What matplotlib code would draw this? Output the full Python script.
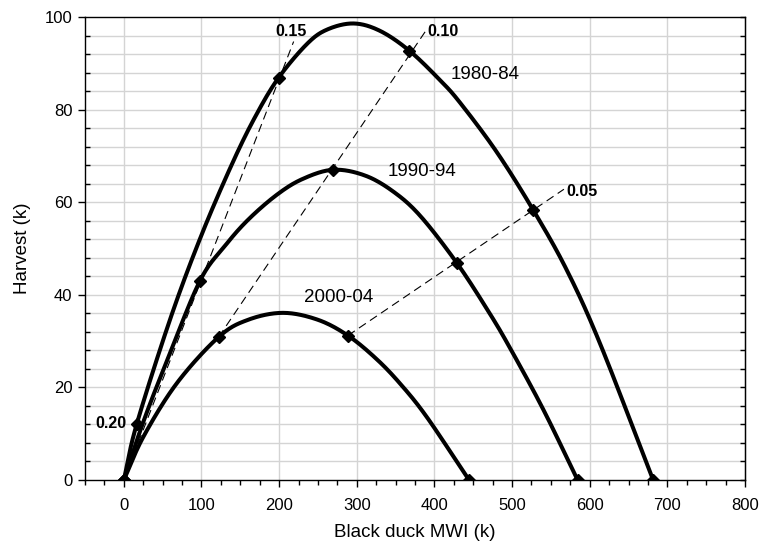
import numpy as np
import matplotlib
matplotlib.use('Agg')
import matplotlib.pyplot as plt
from matplotlib.ticker import MultipleLocator, NullFormatter

plt.rcParams['font.family'] = ['Liberation Sans', 'DejaVu Sans']

# ---- data ----
series_names = ['1980-84', '1990-94', '2000-04']

x_8084 = [0, 16.5, 60, 100, 140, 170, 199.4, 236, 262, 296, 330, 367.9, 407, 433, 480, 527.3, 570, 613, 681.7]
y_8084 = [0, 12.0, 34.9, 52.9, 68.5, 78.7, 86.9, 94.2, 97.3, 98.6, 97.0, 92.7, 86.4, 81.5, 70.9, 58.3, 45.5, 29.6, 0]
mx_8084 = [0, 16.5, 199.4, 367.9, 527.3, 681.7]
my_8084 = [0, 12.0, 86.9, 92.7, 58.3, 0]

x_9094 = [0, 25, 55, 98, 130, 160, 197, 230, 269.3, 310, 347, 382, 428.8, 470, 497.4, 540, 584.4]
y_9094 = [0, 12.5, 25.5, 43, 50.5, 56.2, 61.6, 65.0, 67, 65.8, 62.3, 57.0, 46.9, 36.3, 28.5, 15.3, 0]
mx_9094 = [0, 98, 269.3, 428.8, 584.4]
my_9094 = [0, 43, 67, 46.9, 0]

x_0004 = [0, 25.7, 68.7, 122.2, 160, 205, 250, 288.6, 325, 355.9, 390.2, 444.6]
y_0004 = [0, 9.5, 21.0, 30.9, 34.6, 36.1, 34.6, 31.2, 26.2, 20.8, 13.6, 0]
mx_0004 = [0, 122.2, 288.6, 444.6]
my_0004 = [0, 30.9, 31.2, 0]

rate_labels = ['0.20', '0.15', '0.10', '0.05']
rate_x0 = [0, 0, 122.2, 288.6]
rate_y0 = [0, 0, 30.9, 31.2]
rate_x1 = [16.5, 218.7, 388, 566.8]
rate_y1 = [12.0, 94.7, 96.8, 62.8]
rate_lab_x = [3, 215.6, 391.5, 569.4]
rate_lab_y = [12.2, 96.9, 96.8, 62.3]

label_x = [465, 384, 277]
label_y = [87.5, 66.6, 39.4]

xticks = [0, 100, 200, 300, 400, 500, 600, 700, 800]
yticks = [0, 20, 40, 60, 80, 100]


def smooth(xs, ys, n=24):
    p = np.column_stack([xs, ys]).astype(float)
    p = np.vstack([p[0] - (p[1] - p[0]), p, p[-1] + (p[-1] - p[-2])])
    out = []
    t = np.linspace(0, 1, n, endpoint=False)[:, None]
    for i in range(1, len(p) - 2):
        p0, p1, p2, p3 = p[i - 1], p[i], p[i + 1], p[i + 2]
        seg = 0.5 * ((2 * p1) + (-p0 + p2) * t + (2 * p0 - 5 * p1 + 4 * p2 - p3) * t ** 2
                     + (-p0 + 3 * p1 - 3 * p2 + p3) * t ** 3)
        out.append(seg)
    out.append(p[-2][None, :])
    out = np.vstack(out)
    return out[:, 0], out[:, 1]


fig = plt.figure(figsize=(7.59, 5.48), dpi=100)
ax = fig.add_axes([85 / 759, 1 - 480 / 548, (745 - 85) / 759, (480 - 17) / 548])

ax.set_xlim(-50, 800)
ax.set_ylim(0, 100)

# grid
for gx in range(0, 800, 100):
    ax.axvline(gx, color='#d4d4d4', lw=1.0, zorder=0)
for gy in range(4, 100, 4):
    ax.axhline(gy, color='#d4d4d4', lw=1.0, zorder=0)

# rate lines
for i in range(len(rate_labels)):
    ax.plot([rate_x0[i], rate_x1[i]], [rate_y0[i], rate_y1[i]], color='black', lw=0.8,
            dashes=(7.5, 4.5), zorder=2)

# curves
for xs, ys, mx, my in [(x_8084, y_8084, mx_8084, my_8084),
                       (x_9094, y_9094, mx_9094, my_9094),
                       (x_0004, y_0004, mx_0004, my_0004)]:
    sx, sy = smooth(xs, ys)
    ax.plot(sx, sy, color='black', lw=2.9, zorder=3, solid_capstyle='round',
            solid_joinstyle='round')
    ax.plot(mx, my, linestyle='none', marker='D', ms=6.5, color='black', zorder=4)

# labels
for i, name in enumerate(series_names):
    ax.text(label_x[i], label_y[i], name, fontsize=13.5, ha='center', va='center', zorder=5)

ax.text(rate_lab_x[0], rate_lab_y[0], rate_labels[0], fontsize=11.5, fontweight='bold',
        ha='right', va='center', zorder=5)
ax.text(rate_lab_x[1], rate_lab_y[1], rate_labels[1], fontsize=11.5, fontweight='bold',
        ha='center', va='center', zorder=5)
ax.text(rate_lab_x[2], rate_lab_y[2], rate_labels[2], fontsize=11.5, fontweight='bold',
        ha='left', va='center', zorder=5)
ax.text(rate_lab_x[3], rate_lab_y[3], rate_labels[3], fontsize=11.5, fontweight='bold',
        ha='left', va='center', zorder=5)

# ticks
ax.set_xticks(xticks)
ax.set_yticks(yticks)
ax.xaxis.set_minor_locator(MultipleLocator(25))
ax.yaxis.set_minor_locator(MultipleLocator(4))
ax.tick_params(axis='both', which='major', direction='out', length=5, width=1,
               labelsize=12, colors='black')
ax.tick_params(axis='x', which='minor', direction='out', length=3.5, width=1)
ax.tick_params(axis='y', which='minor', direction='in', length=3.5, width=1)
ax.tick_params(axis='x', which='major', pad=8)
ax.tick_params(axis='y', which='major', pad=4)

sec = ax.secondary_yaxis('right')
sec.set_yticks(yticks)
sec.yaxis.set_minor_locator(MultipleLocator(4))
sec.tick_params(which='both', direction='in', length=3.5, width=1, labelright=False)
sec.yaxis.set_major_formatter(NullFormatter())

for s in ax.spines.values():
    s.set_color('black')
    s.set_linewidth(1.0)

ax.set_xlabel('Black duck MWI (k)', fontsize=13.5, labelpad=8)
ax.set_ylabel('Harvest (k)', fontsize=13.5, labelpad=10)

fig.savefig('out.png', dpi=100)
